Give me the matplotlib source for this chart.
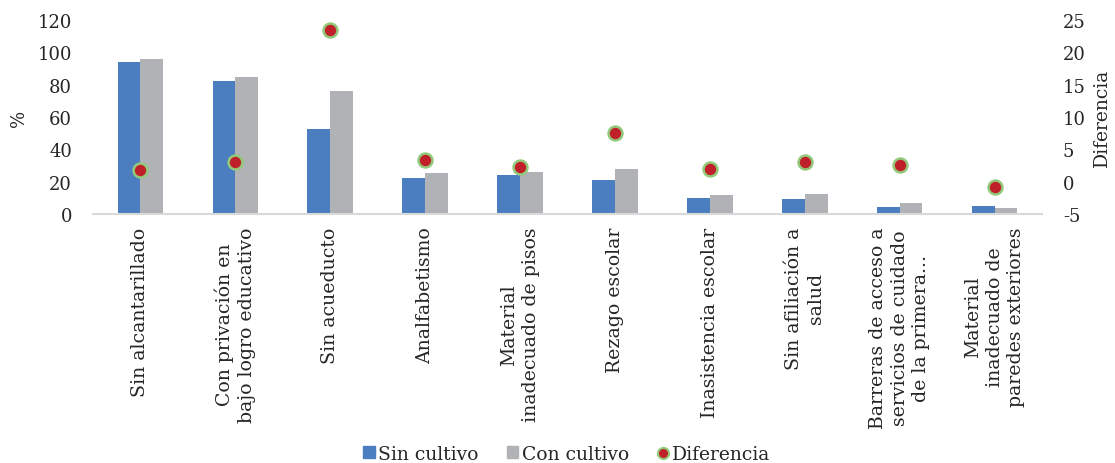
import matplotlib
matplotlib.use("Agg")
import matplotlib.pyplot as plt
from matplotlib.lines import Line2D
import numpy as np

plt.rcParams["font.family"] = ["DejaVu Serif"]
plt.rcParams["axes.unicode_minus"] = False

categorias = [
    "Sin alcantarillado",
    "Con privación en\nbajo logro educativo",
    "Sin acueducto",
    "Analfabetismo",
    "Material\ninadecuado de pisos",
    "Rezago escolar",
    "Inasistencia escolar",
    "Sin afiliación a\nsalud",
    "Barreras de acceso a\nservicios de cuidado\nde la primera...",
    "Material\ninadecuado de\nparedes exteriores",
]
sin_cultivo = [94.0, 82.0, 52.6, 22.3, 23.9, 20.8, 9.6, 9.3, 4.3, 5.0]
con_cultivo = [95.7, 84.9, 76.0, 25.5, 26.2, 28.0, 11.6, 12.4, 7.0, 3.9]
diferencia = [1.8, 3.0, 23.5, 3.3, 2.2, 7.5, 2.0, 3.1, 2.6, -0.9]

azul = "#4A7EC1"
gris = "#B1B2B6"
rojo = "#C0202A"
verde = "#92C97A"
texto = "#262626"

fig = plt.figure(figsize=(11.15, 4.64), dpi=100)
ax = fig.add_axes([93/1115, 1-215/464, 949/1115, 194/464])
x = np.arange(len(categorias))
w = 0.24
ax.bar(x - w/2, sin_cultivo, w, color=azul, label="Sin cultivo")
ax.bar(x + w/2, con_cultivo, w, color=gris, label="Con cultivo")
ax.set_xlim(-0.5, len(categorias) - 0.5)
ax.set_ylim(0, 120)
ax.set_yticks(range(0, 121, 20))
ax.set_xticks(x)
ax.set_xticklabels(categorias, rotation=90, multialignment="center", linespacing=1.25)
for s in ["top", "right", "left"]:
    ax.spines[s].set_visible(False)
ax.spines["bottom"].set_color("#D9D9D9")
ax.spines["bottom"].set_linewidth(1.5)
ax.tick_params(axis="y", length=0, pad=15, labelsize=13, labelcolor=texto)
ax.tick_params(axis="x", length=0, pad=9, labelsize=13.6, labelcolor=texto)

ax2 = ax.twinx()
ax2.plot(x, diferencia, linestyle="none", marker="o", markersize=10,
         markerfacecolor=rojo, markeredgecolor=verde, markeredgewidth=1.8)
ax2.set_ylim(-5, 25)
ax2.set_yticks(range(-5, 26, 5))
for s in ax2.spines.values():
    s.set_visible(False)
ax2.tick_params(axis="y", length=0, pad=15, labelsize=13, labelcolor=texto)

fig.text(19/1115, 1-118/464, "%", rotation=90, ha="center", va="center", fontsize=13, color=texto)
fig.text(1102/1115, 1-118/464, "Diferencia", rotation=90, ha="center", va="center", fontsize=13.5, color=texto)

handles = [
    plt.Rectangle((0, 0), 1, 1, color=azul),
    plt.Rectangle((0, 0), 1, 1, color=gris),
    Line2D([], [], linestyle="none", marker="o", markersize=8,
           markerfacecolor=rojo, markeredgecolor=verde, markeredgewidth=1.5),
]
fig.legend(handles, ["Sin cultivo", "Con cultivo", "Diferencia"], loc="center",
           bbox_to_anchor=(567/1115, 1-455/464), ncol=3, frameon=False, fontsize=13.5,
           handlelength=0.6, handleheight=0.6, handletextpad=0.2, columnspacing=1.5,
           labelcolor=texto)

fig.savefig("out.png", dpi=100)
